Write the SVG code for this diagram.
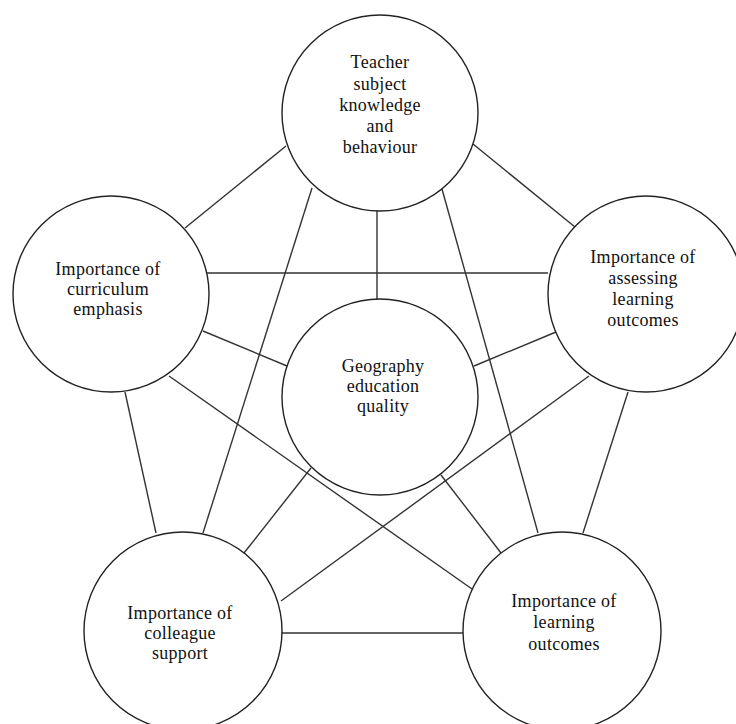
<svg xmlns="http://www.w3.org/2000/svg" width="736" height="724" viewBox="0 0 736 724">
<style>
.c{fill:#fff;stroke:#222;stroke-width:1.4}
.e line{stroke:#333;stroke-width:1.4}
text{font-family:"Liberation Serif","Times New Roman",serif;font-size:18px;letter-spacing:0.3px;fill:#111;text-anchor:middle}
</style>
<rect width="736" height="724" fill="#fff"/>
<g class="e" id="connectors">
<line x1="185" y1="228" x2="286" y2="146"/>
<line x1="473" y1="144" x2="575" y2="227"/>
<line x1="377" y1="210" x2="377" y2="300"/>
<line x1="312" y1="188" x2="203" y2="533"/>
<line x1="442" y1="189" x2="538" y2="533"/>
<line x1="203" y1="273" x2="548" y2="273"/>
<line x1="203" y1="331" x2="287" y2="366"/>
<line x1="556" y1="332" x2="474" y2="366"/>
<line x1="125" y1="392" x2="156" y2="533"/>
<line x1="628" y1="392" x2="583" y2="533"/>
<line x1="169" y1="376" x2="472" y2="589"/>
<line x1="589" y1="376" x2="281" y2="601"/>
<line x1="311" y1="468" x2="244" y2="553"/>
<line x1="441" y1="475" x2="501" y2="553"/>
<line x1="282" y1="633" x2="463" y2="633"/>
</g>
<g id="teacher">
<circle class="c" cx="380" cy="113" r="98"/>
<text x="380" y="68">Teacher</text>
<text x="380" y="90">subject</text>
<text x="380" y="111">knowledge</text>
<text x="380" y="132">and</text>
<text x="380" y="153">behaviour</text>
</g>
<g id="curriculum">
<circle class="c" cx="111" cy="294" r="98"/>
<text x="108" y="275">Importance of</text>
<text x="108" y="295">curriculum</text>
<text x="108" y="315">emphasis</text>
</g>
<g id="assessing">
<circle class="c" cx="646" cy="294" r="98"/>
<text x="643" y="263">Importance  of</text>
<text x="643" y="284">assessing</text>
<text x="643" y="305">learning</text>
<text x="643" y="326">outcomes</text>
</g>
<g id="quality">
<circle class="c" cx="380" cy="397" r="98"/>
<text x="383" y="372">Geography</text>
<text x="383" y="392">education</text>
<text x="383" y="412">quality</text>
</g>
<g id="colleague">
<circle class="c" cx="183" cy="631" r="99"/>
<text x="180" y="619">Importance of</text>
<text x="180" y="639">colleague</text>
<text x="180" y="659">support</text>
</g>
<g id="learning">
<circle class="c" cx="562" cy="631" r="99"/>
<text x="564" y="607">Importance of</text>
<text x="564" y="628">learning</text>
<text x="564" y="650">outcomes</text>
</g>
</svg>
